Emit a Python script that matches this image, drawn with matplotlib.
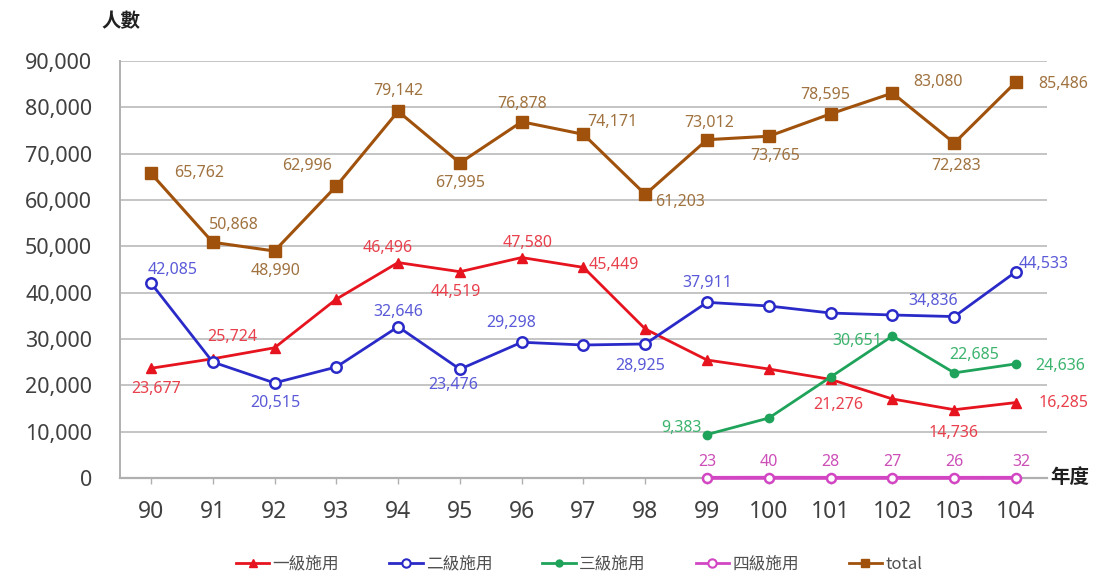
import matplotlib
matplotlib.use("Agg")
import matplotlib.pyplot as plt
from matplotlib.lines import Line2D

plt.rcParams['font.family'] = ['Noto Sans', 'Noto Sans CJK TC', 'DejaVu Sans']

years = ['90', '91', '92', '93', '94', '95', '96', '97', '98', '99', '100', '101', '102', '103', '104']
level1 = [23677, 25724, 28100, 38600, 46496, 44519, 47580, 45449, 32150, 25460, 23520, 21276, 17050, 14736, 16285]
level2 = [42085, 25030, 20515, 23950, 32646, 23476, 29298, 28700, 28925, 37911, 37120, 35600, 35180, 34836, 44533]
level3 = [9383, 12950, 21800, 30651, 22685, 24636]
level4 = [23, 40, 28, 27, 26, 32]
total = [65762, 50868, 48990, 62996, 79142, 67995, 76878, 74171, 61203, 73012, 73765, 78595, 83080, 72283, 85486]
later_years = years[9:]

# which points carry a label and the label offset (pixels)
l1_lab = {0: (5, -21), 1: (20, 22), 4: (-10, 15), 5: (-4, -20), 6: (6, 15), 7: (30, 2),
          11: (8, -26), 13: (-1, -23), 14: (47, 0)}
l2_lab = {0: (22, 13), 2: (1, -20), 4: (0, 15), 5: (-7, -16), 6: (-11, 19), 8: (-5, -22),
          9: (0, 19), 13: (-21, 16), 14: (28, 8)}
l3_lab = {0: (-26, 7), 3: (-35, -5), 4: (20, 18), 5: (44, -2)}
l4_lab = {0: (0, 16), 1: (0, 16), 2: (0, 16), 3: (0, 16), 4: (0, 16), 5: (5, 16)}
tot_lab = {0: (48, 0), 1: (21, 17), 2: (1, -20), 3: (-29, 20), 4: (0, 20), 5: (0, -20),
           6: (0, 18), 7: (29, 12), 8: (35, -8), 9: (2, 17), 10: (6, -20), 11: (-5, 19),
           12: (46, 11), 13: (2, -23), 14: (47, -2)}

fig = plt.figure(figsize=(10.97, 5.77), dpi=100)
ax = fig.add_axes([0.1094, 0.1716, 0.8450, 0.7227])

x_all = list(range(len(years)))
x_late = list(range(9, 15))

c1, c2, c3, c4, ct = '#e6141e', '#2a2ac8', '#1fa35a', '#d246c3', '#a0520d'
t1, t2, t3, t4, tt = '#e8404c', '#5a5ad8', '#3cb46e', '#cc4fb8', '#a0723f'

ax.plot(x_all, total, color=ct, lw=2.2, marker='s', ms=8, mfc=ct, mec=ct, label='total', zorder=3)
ax.plot(x_all, level1, color=c1, lw=2.0, marker='^', ms=7, mfc=c1, mec=c1, label='一級施用', zorder=4)
ax.plot(x_all, level2, color=c2, lw=2.0, marker='o', ms=7.5, mfc='white', mec=c2, mew=1.8, label='二級施用', zorder=5)
ax.plot(x_late, level3, color=c3, lw=2.0, marker='o', ms=6, mfc=c3, mec=c3, label='三級施用', zorder=4)
ax.plot(x_late, level4, color=c4, lw=2.8, marker='o', ms=6.5, mfc='white', mec=c4, mew=1.8, label='四級施用',
        zorder=6, clip_on=False)

def labels(xs, ys, lab, color):
    for i, (dx, dy) in lab.items():
        ax.annotate(f'{ys[i]:,}', (xs[i], ys[i]), xytext=(dx, dy), textcoords='offset pixels',
                    ha='center', va='center', color=color, fontsize=11.5, zorder=7)

labels(x_all, total, tot_lab, tt)
labels(x_all, level1, l1_lab, t1)
labels(x_all, level2, l2_lab, t2)
labels(x_late, level3, l3_lab, t3)
labels(x_late, level4, l4_lab, t4)

ax.set_xlim(-0.5, 14.5)
ax.set_ylim(0, 90000)
ax.set_yticks(range(0, 90001, 10000))
ax.set_yticklabels([f'{v:,}' for v in range(0, 90001, 10000)])
ax.set_xticks(x_all)
ax.set_xticklabels(years)
ax.grid(axis='y', color='#c4c4c4', lw=1.4, zorder=0)
ax.set_axisbelow(True)
for s in ['top', 'right']:
    ax.spines[s].set_visible(False)
ax.spines['left'].set_color('#b0b0b0')
ax.spines['left'].set_linewidth(1.4)
ax.spines['bottom'].set_color('#b0b0b0')
ax.spines['bottom'].set_linewidth(1.6)
ax.tick_params(axis='y', length=0, pad=20, labelsize=15.5, labelcolor='#404040')
ax.tick_params(axis='x', length=4, width=1, color='#b0b0b0', pad=12, labelsize=16.5, labelcolor='#404040')

fig.text(0.110, 0.962, '人數', ha='center', va='center', fontsize=14, fontweight='bold',
         color='#202020', family=['Noto Sans CJK TC'])
fig.text(0.957, 0.172, '年度', ha='left', va='center', fontsize=14, fontweight='bold',
         color='#202020', family=['Noto Sans CJK TC'])

handles = [
    Line2D([], [], color=c1, lw=2, marker='^', ms=6, mfc=c1, mec=c1),
    Line2D([], [], color=c2, lw=2, marker='o', ms=6, mfc='white', mec=c2, mew=1.5),
    Line2D([], [], color=c3, lw=2, marker='o', ms=5, mfc=c3, mec=c3),
    Line2D([], [], color=c4, lw=2, marker='o', ms=6, mfc='white', mec=c4, mew=1.5),
    Line2D([], [], color=ct, lw=2, marker='s', ms=6, mfc=ct, mec=ct),
]
leg = fig.legend(handles, ['一級施用', '二級施用', '三級施用', '四級施用', 'total'],
                 loc='center', bbox_to_anchor=(0.528, 0.022), ncol=5, frameon=False,
                 handlelength=2.0, handletextpad=0.2, columnspacing=3.0,
                 prop={'family': ['Noto Sans CJK TC', 'Noto Sans'], 'size': 12})
for t in leg.get_texts():
    t.set_color('#505050')

fig.savefig('out.png', dpi=100)
